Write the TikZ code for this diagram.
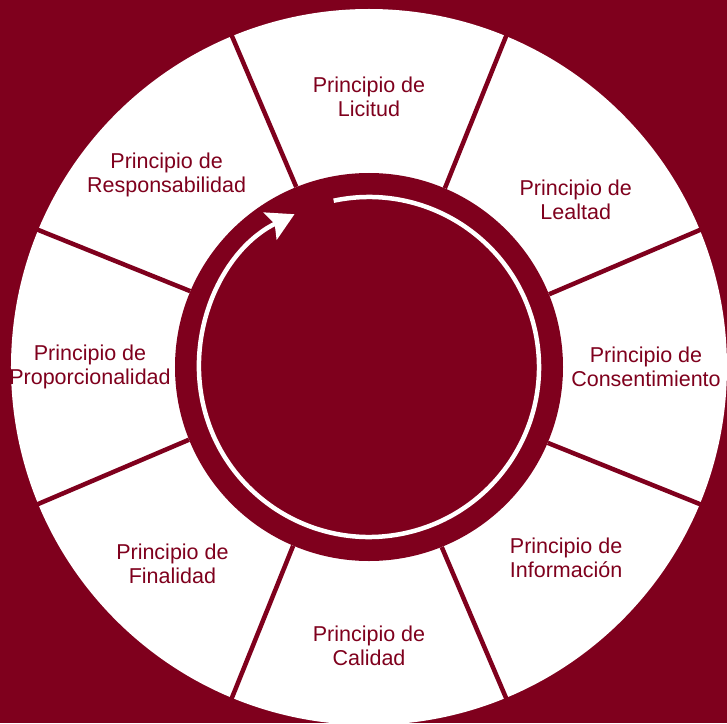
\documentclass[tikz,border=0pt]{standalone}
\usepackage{fontspec}
\setmainfont{Liberation Sans}
\usepackage{xcolor}
\usepackage{tikz}
\usetikzlibrary{arrows.meta}
\definecolor{WheelRed}{HTML}{7F001D}
\tikzset{
  principle/.style={
    align=center,
    text=WheelRed,
    font=\fontsize{21.5}{24}\selectfont,
    inner sep=0pt
  },
  spoke/.style={draw=WheelRed, line width=4.5pt},
  cycle/.style={draw=white, line width=4.5pt,
    -{Stealth[length=27pt, width=30pt, inset=5pt]}}
}
\begin{document}
\begin{tikzpicture}[
  x=1pt, y=1pt,
  hubdisc/.style={circle, fill=WheelRed, minimum size=388pt, inner sep=0pt},
  ring/.style={fill=white}
]
% background and wheel
\fill[WheelRed] (-369,-356) rectangle (358,367);
\useasboundingbox (-369,-356) rectangle (358,367);
\fill[ring] (0,0) circle (358);
\node[hubdisc] (hub) at (0,0) {};
% spokes between the segments
\draw[spoke] (hub.22.5)  -- (22.5:362);
\draw[spoke] (hub.67.5)  -- (67.5:362);
\draw[spoke] (hub.112.5) -- (112.5:362);
\draw[spoke] (hub.157.5) -- (157.5:362);
\draw[spoke] (hub.202.5) -- (202.5:362);
\draw[spoke] (hub.247.5) -- (247.5:362);
\draw[spoke] (hub.292.5) -- (292.5:362);
\draw[spoke] (hub.337.5) -- (337.5:362);
% circular arrow
\draw[cycle] (102:170) arc[start angle=102, end angle=-244, radius=170];
% segment labels
\node[principle] (licitud)   at (90:270)  {Principio de\\Licitud};
\node[principle] (lealtad)   at (39:266)  {Principio de\\Lealtad};
\node[principle] (consent)   at (0:277)   {Principio de\\Consentimiento};
\node[principle] (info)      at (-44:274) {Principio de\\Información};
\node[principle] (calidad)   at (-90:279) {Principio de\\Calidad};
\node[principle] (finalidad) at (-135:278) {Principio de\\Finalidad};
\node[principle] (proporc)   at (180:279) {Principio de\\Proporcionalidad};
\node[principle] (respons)   at (136.5:279) {Principio de\\Responsabilidad};
\end{tikzpicture}
\end{document}
